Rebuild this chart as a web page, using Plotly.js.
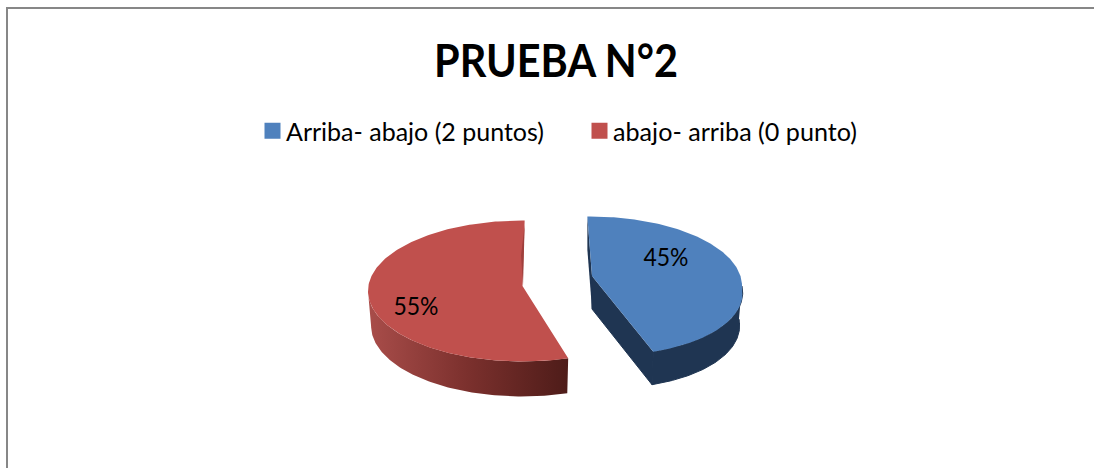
<!DOCTYPE html>
<html>
<head>
<meta charset="utf-8">
<script src="https://cdn.plot.ly/plotly-3.0.1.min.js"></script>
<style>html,body{margin:0;padding:0;background:#fff}#c{width:1094px;height:468px}</style>
</head>
<body>
<div id="c"></div>
<script>
const chartTitle = 'PRUEBA N°2';
const categories = ['Arriba- abajo (2 puntos)', 'abajo- arriba (0 punto)'];
const values = [45, 55];
const faceColors = ['#4f81bd', '#c0504d'];

// Projection of each slice of the tilted, exploded disc (page pixels)
const geom = [
  {cx: 590, cy: 286, rx: 152, ry: 69.5, ax: 592, ay: 276, start: -1, dir: 1, depth: 33, shear: 0.21, lx: 666, ly: 260},
  {cx: 522.5, cy: 291, rx: 154.5, ry: 70.5, ax: 522.5, ay: 286, start: 0.8, dir: -1, depth: 35, shear: 0, lx: 416, ly: 309}
];
const baseScale = 0.98;
const total = values.reduce((a, b) => a + b, 0);

function pt(g, deg, base) {
  const r = deg * Math.PI / 180;
  let x = g.cx + g.rx * Math.sin(r);
  let y = g.cy - g.ry * Math.cos(r);
  x += g.shear * Math.max(0, y - g.cy);
  if (base) { x = g.cx + (x - g.cx) * baseScale; y += g.depth; }
  return [x, y];
}
function arc(g, from, to, base) {
  const out = [], n = Math.max(2, Math.ceil(Math.abs(to - from)));
  for (let i = 0; i <= n; i++) out.push(pt(g, from + (to - from) * i / n, base));
  return out;
}
function poly(points, color, extra) {
  return Object.assign({
    x: points.map(p => p[0]), y: points.map(p => p[1]), type: 'scatter', mode: 'lines',
    fill: 'toself', fillcolor: color, line: {width: 0, color: color}, hoverinfo: 'skip', showlegend: false
  }, extra || {});
}

const traces = [];
values.forEach((v, i) => {
  const g = geom[i];
  const sweep = g.dir * v / total * 360;
  const end = g.start + sweep;
  const side = g.dir * 90;
  const outerTop = arc(g, side, end, false);
  const outerBase = arc(g, end, side, true);
  const wall = outerTop.concat(outerBase);
  if (i === 0) {
    const wallColor = '#1f3552';
    const s = pt(g, g.start, false), e = pt(g, end, false);
    const edge = {line: {width: 1, color: wallColor}};
    traces.push(poly([s, [s[0], s[1] + g.depth], [g.ax, g.ay + g.depth], [g.ax, g.ay]], wallColor));
    traces.push(poly([[g.ax, g.ay], [g.ax, g.ay + g.depth], pt(g, end, true), e], wallColor, edge));
    traces.push(poly(wall, wallColor, edge));
  } else {
    const xs = wall.map(p => p[0]);
    traces.push(poly(wall, '#a84c49', {
      fillcolor: undefined,
      fillgradient: {type: 'horizontal', start: Math.min.apply(null, xs), stop: Math.max.apply(null, xs),
        colorscale: [[0, '#a94d4a'], [0.5, '#7b302d'], [1, '#4e1c19']]}
    }));
  }
  const face = [[g.ax, g.ay]].concat(arc(g, g.start, end, false));
  traces.push(poly(face, faceColors[i]));
  if (i === 1) {
    const s = pt(g, g.start, false);
    traces.push(poly([[s[0], s[1] + 4], [g.ax + 0.5, g.ay], [(s[0] + g.ax) / 2 - 2.5, (s[1] + g.ay) / 2 + 2]], '#9f3f3c'));
  }
});
// data labels
traces.push({
  x: geom.map(g => g.lx), y: geom.map(g => g.ly), type: 'scatter', mode: 'text',
  text: values.map(v => Math.round(v / total * 100) + '%'),
  textposition: 'middle center', textfont: {family: 'Lato', size: 25, color: '#000'},
  hoverinfo: 'skip', showlegend: false
});
// legend entries
categories.forEach((c, i) => traces.push({
  x: [null], y: [null], type: 'scatter', mode: 'markers', name: c,
  marker: {symbol: 'square', size: 16, color: faceColors[i]}, hoverinfo: 'skip'
}));

const frame = {type: 'line', xref: 'x', yref: 'y', line: {color: '#878787', width: 2}};
const layout = {
  width: 1094, height: 468, margin: {l: 0, r: 0, t: 0, b: 0},
  paper_bgcolor: '#fff', plot_bgcolor: '#fff',
  font: {family: 'Lato', color: '#000'},
  title: {text: '<b>' + chartTitle + '</b>', font: {family: 'Lato', size: 45, color: '#000'},
    x: 556 / 1094, xanchor: 'center', xref: 'paper', y: 1 - 61 / 468, yanchor: 'middle', yref: 'container'},
  xaxis: {range: [0, 1094], visible: false, fixedrange: true},
  yaxis: {range: [468, 0], visible: false, fixedrange: true},
  legend: {orientation: 'h', x: 252.5 / 1094, xanchor: 'left', y: 1 - 131 / 468, yanchor: 'middle',
    font: {family: 'Lato', size: 25, color: '#000'}, entrywidth: 282, entrywidthmode: 'pixels',
    bgcolor: 'rgba(0,0,0,0)', itemclick: false, itemdoubleclick: false, traceorder: 'normal'},
  shapes: [
    Object.assign({}, frame, {x0: 6, x1: 1094, y0: 8, y1: 8}),
    Object.assign({}, frame, {x0: 7, x1: 7, y0: 8, y1: 468})
  ],
  showlegend: true
};
// Calibri-like proportions: Lato is wider, so fit the drawn text to the reference widths
function fit(el, w) {
  el.setAttribute('textLength', w);
  el.setAttribute('lengthAdjust', 'spacingAndGlyphs');
}
Plotly.newPlot('c', traces, layout, {displayModeBar: false, responsive: false, staticPlot: true}).then(() => {
  const root = document.getElementById('c');
  const t = root.querySelector('.gtitle');
  if (t) fit(t, 244);
  const legendWidths = [258, 244];
  root.querySelectorAll('.legendtext').forEach((el, i) => {
    fit(el, legendWidths[i]);
    el.setAttribute('x', parseFloat(el.getAttribute('x')) - 6.5);
  });
  root.querySelectorAll('.textpoint text').forEach(el => fit(el, 45));
});
</script>
</body>
</html>
